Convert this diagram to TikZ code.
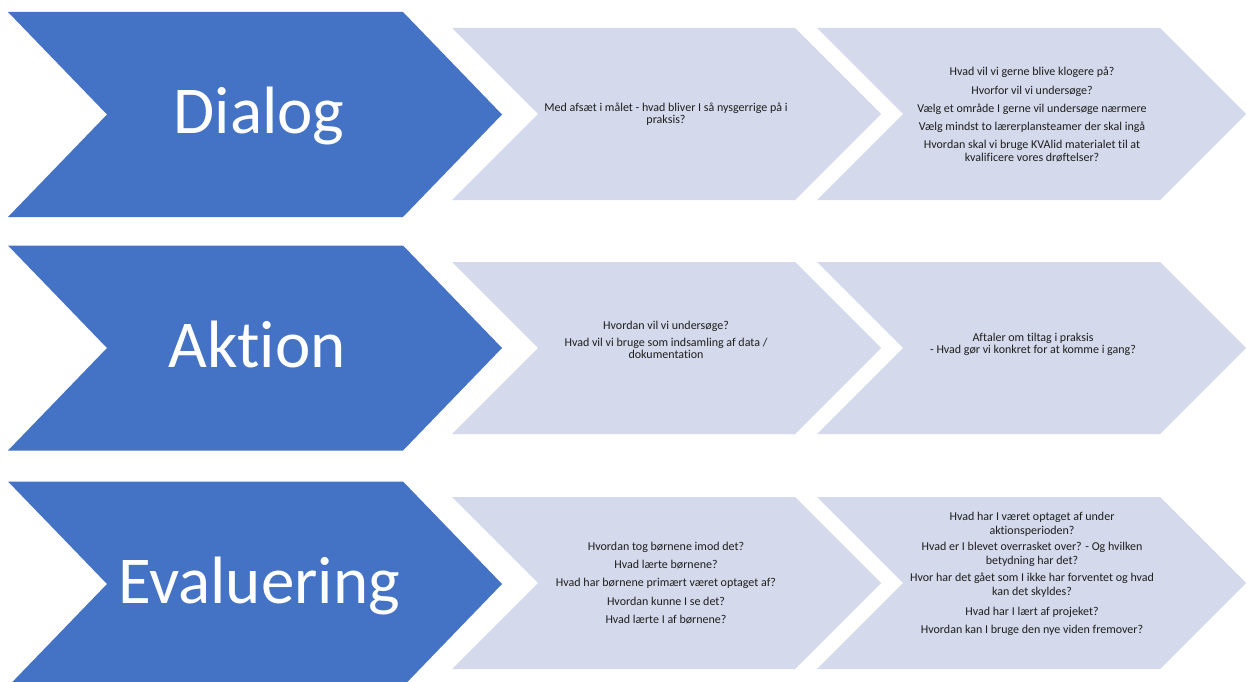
\documentclass[tikz,border=0pt]{standalone}
\usepackage{fontspec}
\setmainfont{Carlito}[Ligatures={NoCommon}]
\definecolor{chevblue}{RGB}{68,114,196}
\definecolor{chevlight}{RGB}{212,217,235}
\definecolor{txtdark}{RGB}{30,30,30}
\newcommand\chevshape[6]{% style, left, right, mid, halfheight, depth
  \fill[#1] (#2,#4-#5) -- (#3,#4-#5) -- (#3+#6,#4) -- (#3,#4+#5) -- (#2,#4+#5) -- (#2+#6,#4) -- cycle;}
\begin{document}
\begin{tikzpicture}[x=1pt,y=-1pt,
  bigchev/.style={fill=chevblue},
  lightchev/.style={fill=chevlight},
  bigtxt/.style={anchor=base,text=white,font=\fontsize{67}{80}\selectfont,inner sep=0pt},
  smalltxt/.style={align=center,text=txtdark,font=\fontsize{12}{12.3}\selectfont,inner sep=0pt},
]
\useasboundingbox (0,0) rectangle (1247,682);
\clip (0,0) rectangle (1247,682);
% row 1
\chevshape{bigchev}{8}{403}{114.5}{102.5}{99}
\chevshape{lightchev}{452}{795}{114}{86}{86}
\chevshape{lightchev}{817}{1160}{114}{86}{86}
% row 2
\chevshape{bigchev}{8}{403}{348}{102.5}{99}
\chevshape{lightchev}{452}{795}{348}{86}{86}
\chevshape{lightchev}{817}{1160}{348}{86}{86}
% row 3
\chevshape{bigchev}{8}{403}{584}{102.5}{99}
\chevshape{lightchev}{452}{795}{583}{86}{86}
\chevshape{lightchev}{817}{1160}{583}{86}{86}

\node[bigtxt] (dialog) at (259,133) {Dialog};
\node[bigtxt] (aktion) at (257,367) {Aktion};
\node[bigtxt] (evaluering) at (259,603) {Evaluering};

\node[smalltxt] (d1) at (666,114.5) {Med afsæt i målet - hvad bliver I så nysgerrige på i\\praksis?};
\node[smalltxt] (d2) at (1032,114.5) {Hvad vil vi gerne blive klogere på?\\[6pt]
Hvorfor vil vi undersøge?\\[6pt]
Vælg et område I gerne vil undersøge nærmere\\[6pt]
Vælg mindst to lærerplansteamer der skal ingå\\[6pt]
Hvordan skal vi bruge KVAlid materialet til at\\kvalificere vores drøftelser?};

\node[smalltxt] (a1) at (666,340) {Hvordan vil vi undersøge?\\[4.5pt]
Hvad vil vi bruge som indsamling af data /\\dokumentation};
\node[smalltxt] (a2) at (1033,344.5) {Aftaler om tiltag i praksis\\[0pt]
- Hvad gør vi konkret for at komme i gang?};

\node[smalltxt] (e1) at (666,583) {Hvordan tog børnene imod det?\\[6pt]
Hvad lærte børnene?\\[6pt]
Hvad har børnene primært været optaget af?\\[6pt]
Hvordan kunne I se det?\\[6pt]
Hvad lærte I af børnene?};
\node[smalltxt,font=\fontsize{12}{14}\selectfont] (e2) at (1032,574) {Hvad har I været optaget af under\\aktionsperioden?\\[1.5pt]
Hvad er I blevet overrasket over? - Og hvilken\\betydning har det?\\[3pt]
Hvor har det gået som I ikke har forventet og hvad\\kan det skyldes?\\[6pt]
Hvad har I lært af projeket?\\[4.5pt]
Hvordan kan I bruge den nye viden fremover?};
\end{tikzpicture}
\end{document}
